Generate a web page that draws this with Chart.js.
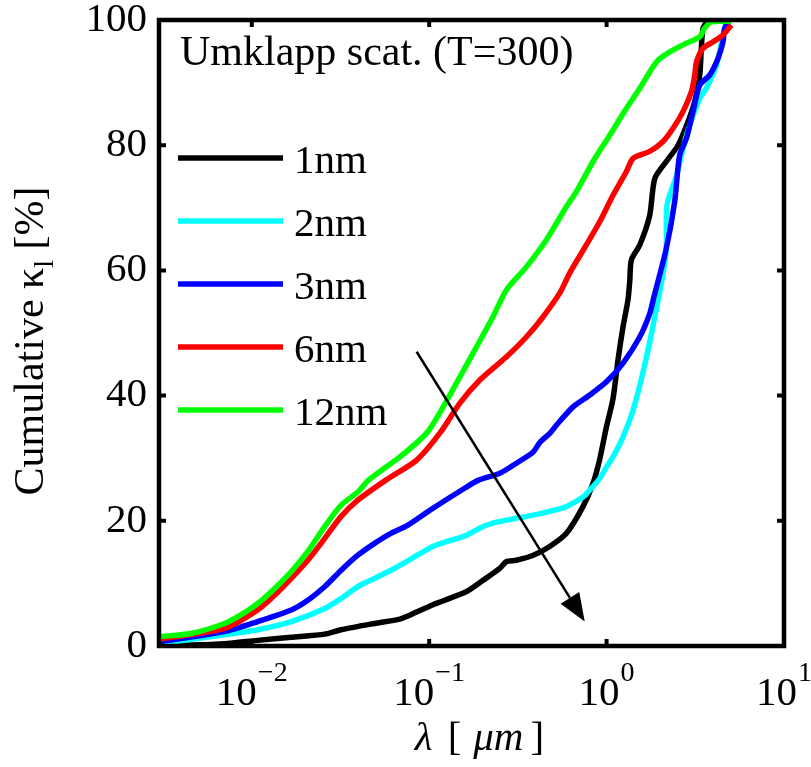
<!DOCTYPE html>
<html>
<head>
<meta charset="utf-8">
<script src="https://cdn.jsdelivr.net/npm/chart.js@4.4.1/dist/chart.umd.min.js"></script>
<style>
    html, body { margin: 0; padding: 0; background: #ffffff; }
    canvas { display: block; }
</style>
</head>
<body>
<canvas id="kappaChart" width="811" height="767"></canvas>
<script>
// Series names and colours (MATLAB default k, c, b, r, g)
const seriesLabels = ["1nm", "2nm", "3nm", "6nm", "12nm"];
const seriesColors = ["#000000", "#00ffff", "#0000ff", "#ff0000", "#00ff00"];

// Mean free path lambda [um] and cumulative kappa_l [%]
const lambda1nm = [0.003, 0.00454, 0.00703, 0.0108, 0.0167, 0.0258, 0.0319, 0.0492, 0.0684, 0.0759, 0.105, 0.1625, 0.2015, 0.25, 0.273, 0.31, 0.386, 0.478, 0.594, 0.737, 0.839, 0.916, 0.998, 1.087, 1.16, 1.238, 1.32, 1.35, 1.38, 1.54, 1.75, 1.87, 2.17, 2.53, 2.88, 3.14, 3.35, 3.42, 3.50, 3.73, 4.9];
const kappa1nm  = [0.1, 0.15, 0.35, 0.9, 1.4, 1.9, 2.6, 3.6, 4.3, 4.8, 6.6, 8.7, 10.5, 12.4, 13.5, 13.7, 14.5, 15.9, 18.0, 22.3, 26.0, 29.9, 35.0, 39.5, 45.7, 51.0, 55.3, 58.2, 61.7, 64.1, 68.8, 74.7, 77.4, 80.0, 83.8, 87.0, 91.2, 95.5, 98.7, 99.7, 100];

const lambda2nm = [0.003, 0.00703, 0.0108, 0.0167, 0.0258, 0.0319, 0.0396, 0.0492, 0.0608, 0.0759, 0.105, 0.1625, 0.2015, 0.25, 0.31, 0.386, 0.478, 0.594, 0.737, 0.804, 0.916, 0.998, 1.087, 1.238, 1.41, 1.60, 1.79, 1.95, 2.08, 2.17, 2.19, 2.48, 2.82, 3.35, 3.65, 4.16, 4.53, 4.73];
const kappa2nm  = [0.4, 1.8, 2.6, 3.9, 6.0, 7.6, 9.5, 10.8, 12.1, 13.6, 15.9, 17.7, 19.1, 19.9, 20.4, 20.9, 21.5, 22.3, 23.8, 24.9, 26.8, 28.6, 30.2, 33.4, 37.7, 43.6, 49.9, 55.3, 59.5, 63.5, 70.4, 75.2, 81.6, 87.5, 89.1, 92.8, 97.6, 99.7];

const lambda3nm = [0.003, 0.00703, 0.0108, 0.0167, 0.0207, 0.0258, 0.0319, 0.0396, 0.0492, 0.0608, 0.0759, 0.105, 0.1625, 0.19, 0.25, 0.31, 0.386, 0.42, 0.48, 0.522, 0.647, 0.804, 0.998, 1.238, 1.54, 1.75, 1.85, 2.17, 2.42, 2.58, 2.82, 3.07, 3.35, 3.81, 4.25, 4.53, 4.63, 4.85];
const kappa3nm  = [0.7, 2.3, 3.9, 5.75, 7.3, 9.5, 12.1, 14.5, 16.4, 18.0, 19.3, 22.0, 25.4, 26.5, 27.6, 29.2, 31.0, 32.5, 34.0, 35.3, 38.2, 40.1, 42.2, 45.2, 49.4, 53.1, 55.8, 63.5, 71.0, 78.4, 81.1, 85.4, 89.6, 91.2, 93.9, 96.5, 98.7, 99.6];

const lambda6nm = [0.003, 0.00703, 0.0108, 0.01346, 0.0167, 0.0207, 0.0258, 0.0319, 0.0396, 0.057, 0.085, 0.1148, 0.149, 0.193, 0.273, 0.354, 0.439, 0.545, 0.62, 0.77, 0.916, 1.087, 1.294, 1.41, 1.75, 2.08, 2.37, 2.70, 3.01, 3.14, 3.21, 3.50, 3.98, 4.53, 5.05];
const kappa6nm  = [1.1, 2.8, 5.75, 8.1, 10.8, 13.7, 17.2, 20.7, 23.3, 26.5, 29.7, 34.0, 38.8, 42.5, 46.2, 49.4, 52.6, 56.4, 59.6, 64.1, 67.8, 72.0, 75.8, 77.9, 79.0, 80.6, 82.7, 85.4, 88.6, 91.2, 93.3, 95.5, 96.5, 97.6, 99.2];

const lambda12nm = [0.003, 0.00454, 0.00703, 0.00873, 0.0108, 0.01346, 0.0167, 0.0207, 0.0258, 0.0319, 0.0396, 0.046, 0.0684, 0.0967, 0.1199, 0.149, 0.185, 0.229, 0.273, 0.354, 0.458, 0.594, 0.676, 0.839, 1.042, 1.294, 1.54, 1.91, 2.27, 2.82, 3.35, 3.57, 3.90, 5.05];
const kappa12nm  = [1.5, 2.0, 3.6, 5.0, 6.8, 9.2, 11.9, 15.1, 19.1, 22.5, 24.6, 26.6, 30.2, 34.0, 38.2, 43.0, 47.8, 52.6, 56.9, 60.6, 64.9, 70.2, 72.6, 77.4, 81.6, 85.9, 89.1, 93.3, 94.9, 96.3, 97.3, 98.7, 99.7, 99.8];

const lambdaSeries = [lambda1nm, lambda2nm, lambda3nm, lambda6nm, lambda12nm];
const kappaSeries = [kappa1nm, kappa2nm, kappa3nm, kappa6nm, kappa12nm];

// Axis ticks
const xTickExponents = [-2, -1, 0, 1];
const yTickValues = [0, 20, 40, 60, 80, 100];

// Arrow ("increasing size"), in data units
const arrowFrom = [0.085, 47.0];
const arrowTo = [0.753, 3.9];

const serif = "\"Liberation Serif\", \"Times New Roman\", serif";

function toPoints(xs, ys) {
    return xs.map((x, i) => ({ x: x, y: ys[i] }));
}

// Frame, inward ticks, log tick labels, axis labels, legend and arrow
const decorPlugin = {
    id: "decor",
    afterDatasetsDraw(chart) {
        const ctx = chart.ctx;
        const a = chart.chartArea;
        const xs = chart.scales.x;
        const ys = chart.scales.y;

        ctx.save();

        // arrow
        const x0 = xs.getPixelForValue(arrowFrom[0]);
        const y0 = ys.getPixelForValue(arrowFrom[1]);
        const x1 = xs.getPixelForValue(arrowTo[0]);
        const y1 = ys.getPixelForValue(arrowTo[1]);
        const ang = Math.atan2(y1 - y0, x1 - x0);
        const headLen = 28;
        const headHalf = 11;
        ctx.strokeStyle = "#000";
        ctx.lineWidth = 2.5;
        ctx.beginPath();
        ctx.moveTo(x0, y0);
        ctx.lineTo(x1 - Math.cos(ang) * headLen, y1 - Math.sin(ang) * headLen);
        ctx.stroke();
        ctx.fillStyle = "#000";
        ctx.beginPath();
        ctx.moveTo(x1, y1);
        ctx.lineTo(x1 - Math.cos(ang) * headLen - Math.sin(ang) * headHalf,
                   y1 - Math.sin(ang) * headLen + Math.cos(ang) * headHalf);
        ctx.lineTo(x1 - Math.cos(ang) * headLen + Math.sin(ang) * headHalf,
                   y1 - Math.sin(ang) * headLen - Math.cos(ang) * headHalf);
        ctx.closePath();
        ctx.fill();

        // box
        ctx.lineWidth = 4.5;
        ctx.strokeRect(a.left, a.top, a.right - a.left, a.bottom - a.top);

        // inward ticks
        const tl = 7;
        ctx.lineWidth = 4;
        ctx.beginPath();
        xTickExponents.forEach(e => {
            const px = xs.getPixelForValue(Math.pow(10, e));
            ctx.moveTo(px, a.bottom); ctx.lineTo(px, a.bottom - tl);
            ctx.moveTo(px, a.top); ctx.lineTo(px, a.top + tl);
        });
        yTickValues.forEach(v => {
            const py = ys.getPixelForValue(v);
            ctx.moveTo(a.left, py); ctx.lineTo(a.left + tl, py);
            ctx.moveTo(a.right, py); ctx.lineTo(a.right - tl, py);
        });
        ctx.stroke();

        // x tick labels 10^n
        ctx.fillStyle = "#000";
        ctx.textBaseline = "alphabetic";
        ctx.textAlign = "left";
        xTickExponents.forEach(e => {
            const px = xs.getPixelForValue(Math.pow(10, e));
            const expText = e < 0 ? "\u2212" + Math.abs(e) : String(e);
            ctx.font = "41px " + serif;
            const wBase = ctx.measureText("10").width;
            ctx.font = "28px " + serif;
            const wExp = ctx.measureText(expText).width;
            const start = px - (wBase + wExp + 1) / 2;
            ctx.font = "41px " + serif;
            ctx.fillText("10", start, a.bottom + 59);
            ctx.font = "28px " + serif;
            ctx.fillText(expText, start + wBase + 1, a.bottom + 35);
        });

        // x axis label: lambda [mu m]
        const parts = [
            { t: "\u03bb", f: "italic 41px " + serif, gap: 15 },
            { t: "[", f: "41px " + serif, gap: 12 },
            { t: "\u03bcm", f: "italic 41px " + serif, gap: 7 },
            { t: "]", f: "41px " + serif, gap: 0 }
        ];
        let total = 0;
        parts.forEach(p => { ctx.font = p.f; p.w = ctx.measureText(p.t).width; total += p.w + p.gap; });
        let cx = (a.left + a.right) / 2 + 8 - total / 2;
        parts.forEach(p => {
            ctx.font = p.f;
            ctx.fillText(p.t, cx, a.bottom + 104);
            cx += p.w + p.gap;
        });

        // y axis label: Cumulative kappa_l [%]
        ctx.save();
        ctx.translate(29, (a.top + a.bottom) / 2 + 8);
        ctx.rotate(-Math.PI / 2);
        const yParts = [
            { t: "Cumulative \u03ba", f: "42px " + serif, dy: 0 },
            { t: "l", f: "28px " + serif, dy: 10 },
            { t: " [%]", f: "42px " + serif, dy: 0 }
        ];
        let yTotal = 0;
        yParts.forEach(p => { ctx.font = p.f; p.w = ctx.measureText(p.t).width; yTotal += p.w; });
        let ux = -yTotal / 2;
        yParts.forEach(p => {
            ctx.font = p.f;
            ctx.fillText(p.t, ux, 14 + p.dy);
            ux += p.w;
        });
        ctx.restore();

        // in-plot title
        ctx.font = "42px " + serif;
        ctx.fillText("Umklapp scat. (T=300)", a.left + 21, a.top + 45);

        // legend
        seriesLabels.forEach((label, i) => {
            const ly = a.top + 138 + i * 63;
            ctx.strokeStyle = seriesColors[i];
            ctx.lineWidth = 5.5;
            ctx.beginPath();
            ctx.moveTo(a.left + 19, ly);
            ctx.lineTo(a.left + 124, ly);
            ctx.stroke();
            ctx.fillStyle = "#000";
            ctx.font = "41px " + serif;
            ctx.fillText(label, a.left + 135, ly + 15);
        });

        ctx.restore();
    }
};

const datasets = seriesLabels.map((label, i) => ({
    label: label,
    data: toPoints(lambdaSeries[i], kappaSeries[i]),
    borderColor: seriesColors[i],
    backgroundColor: seriesColors[i],
    borderWidth: 5.5,
    pointRadius: 0,
    tension: 0.25,
    fill: false,
    order: seriesLabels.length - i   // 12nm drawn on top, as in MATLAB
}));

new Chart(document.getElementById("kappaChart"), {
    type: "line",
    data: { datasets: datasets },
    options: {
        responsive: false,
        animation: false,
        events: [],
        layout: { padding: { left: 0, top: 20, right: 27, bottom: 0 } },
        plugins: {
            legend: { display: false },
            tooltip: { enabled: false }
        },
        scales: {
            x: {
                type: "logarithmic",
                min: 0.003,
                max: 10,
                grid: { display: false, drawTicks: false },
                border: { display: false },
                ticks: { display: false },
                afterFit: (scale) => {
                    scale.height = 121;
                    scale.paddingLeft = 0;
                    scale.paddingRight = 0;
                }
            },
            y: {
                type: "linear",
                min: 0,
                max: 100,
                grid: { display: false, drawTicks: false, tickLength: 0 },
                border: { display: false },
                ticks: {
                    stepSize: 20,
                    padding: 12,
                    color: "#000",
                    font: { family: serif, size: 41 }
                },
                afterFit: (scale) => {
                    scale.width = 159;
                    scale.paddingTop = 0;
                    scale.paddingBottom = 0;
                }
            }
        }
    },
    plugins: [decorPlugin]
});
</script>
</body>
</html>
